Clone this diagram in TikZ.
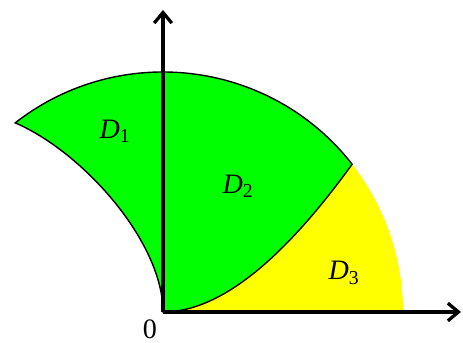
\documentclass[tikz,border=0pt]{standalone}
\usepackage{fontspec}
\setmainfont{Liberation Serif}
\usetikzlibrary{arrows.meta}
\definecolor{verde}{RGB}{0,255,0}
\definecolor{amarillo}{RGB}{255,255,0}
\tikzset{
  eje/.style={line width=3pt, -{Straight Barb[length=9pt, width=15pt, line width=2.8pt]}},
  borde/.style={draw=black, line width=1.2pt},
  region/.style={font=\fontsize{24}{28}\selectfont, inner sep=0pt},
}

\begin{document}
\begin{tikzpicture}[x=0.03cm, y=0.03cm]
  \useasboundingbox (-163,-31) rectangle (300,312);
  \coordinate (O) at (0,0);
  \coordinate (punta) at (128:240);
  \coordinate (corte) at (38:240);
  \coordinate (finx) at (298,0);
  \coordinate (finy) at (0,302);
  % region D3
  \fill[amarillo] (O) -- (240,0) arc[start angle=0, end angle=38, radius=240]
    .. controls (140,80) and (70,0) .. (O);
  % regiones D1 y D2
  \path[fill=verde, borde] (O) .. controls (0,70) and (-80,160) .. (punta)
    arc[start angle=128, end angle=38, radius=240]
    .. controls (140,80) and (70,0) .. cycle;
  % ejes
  \draw[eje] (O) -- (finx);
  \draw[eje] (O) -- (finy);
  \node[region] (d1) at (-48,181) {\textit{D}\textsubscript{1}};
  \node[region] (d2) at (75,126) {\textit{D}\textsubscript{2}};
  \node[region] (d3) at (181,39) {\textit{D}\textsubscript{3}};
  \node[region] (cero) at (-13,-17) {0};
\end{tikzpicture}
\end{document}
